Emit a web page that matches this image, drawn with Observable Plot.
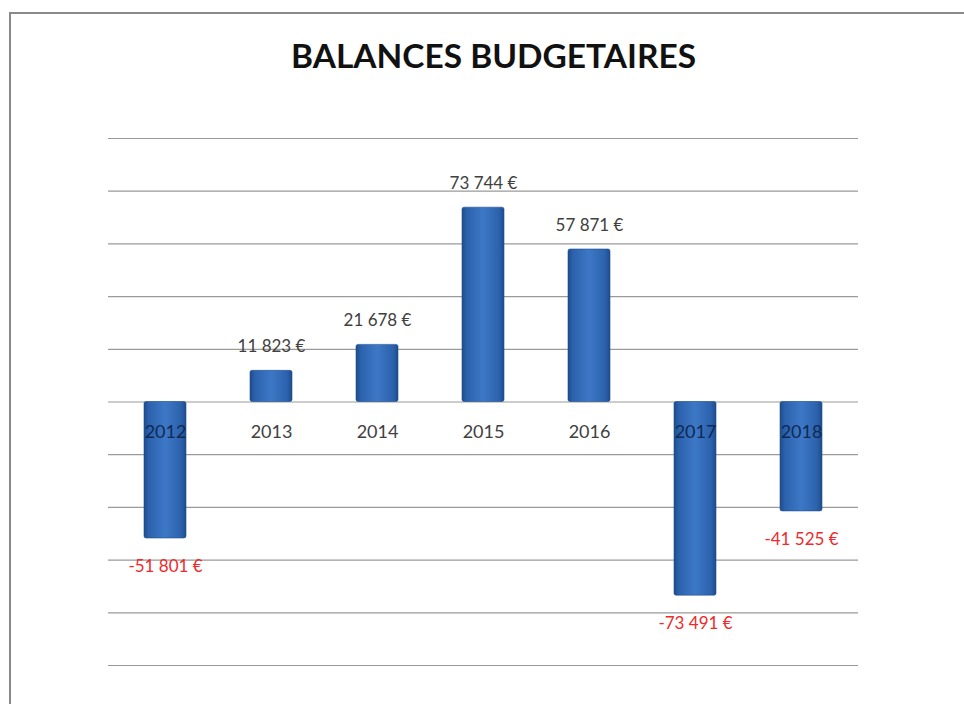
<!DOCTYPE html>
<html>
<head>
<meta charset="utf-8">
<script src="https://cdn.jsdelivr.net/npm/d3@7"></script>
<script src="https://cdn.jsdelivr.net/npm/@observablehq/plot@0.6"></script>
<style>
  html, body { margin: 0; padding: 0; background: #fff; }
  #wrap { position: relative; width: 964px; height: 704px; overflow: hidden; }
  #frame { position: absolute; left: 9px; top: 12px; right: -10px; bottom: -10px; border: 2px solid #8a8a8a; box-sizing: border-box; }
  #chart { position: absolute; left: 0; top: 0; }
</style>
</head>
<body>
<div id="wrap">
  <div id="frame"></div>
  <div id="chart"></div>
</div>
<script>
const title = "BALANCES BUDGETAIRES";
const years = ["2012", "2013", "2014", "2015", "2016", "2017", "2018"];
const balances = [-51801, 11823, 21678, 73744, 57871, -73491, -41525];
const gridTicks = [-100000, -80000, -60000, -40000, -20000, 0, 20000, 40000, 60000, 80000, 100000];

const data = years.map((y, i) => ({year: y, value: balances[i]}));
const fmt = v => {
  const s = Math.abs(v).toString().replace(/\B(?=(\d{3})+(?!\d))/g, " ");
  return (v < 0 ? "-" : "") + s + " €";
};
const pos = data.filter(d => d.value >= 0);
const neg = data.filter(d => d.value < 0);

const gradDefs = () => {
  const ns = "http://www.w3.org/2000/svg";
  const defs = document.createElementNS(ns, "defs");
  defs.innerHTML = `
    <linearGradient id="barGrad" x1="0" x2="1" y1="0" y2="0">
      <stop offset="0" stop-color="#1d4c8c"/>
      <stop offset="0.12" stop-color="#2c62ad"/>
      <stop offset="0.5" stop-color="#3d78c6"/>
      <stop offset="0.88" stop-color="#2c62ad"/>
      <stop offset="1" stop-color="#1d4c8c"/>
    </linearGradient>`;
  return defs;
};

const plot = Plot.plot({
  width: 964,
  height: 704,
  marginLeft: 108,
  marginRight: 106,
  marginTop: 138,
  marginBottom: 39,
  style: {background: "transparent", fontFamily: "Lato, 'Liberation Sans', sans-serif"},
  x: {domain: years, paddingInner: 0.6, paddingOuter: 0.31, axis: null},
  y: {domain: [-100000, 100000], axis: null},
  marks: [
    gradDefs,
    Plot.ruleY(gridTicks, {stroke: "#9a9a9a", strokeWidth: 1.2}),
    Plot.barY(data, {x: "year", y: "value", fill: "url(#barGrad)", stroke: "#1f4f8f", strokeWidth: 0.6, rx: 2}),
    Plot.text(data, {x: "year", y: () => 0, text: "year", dy: 30, fontSize: 18,
      fill: d => d.value < 0 ? "#0f2a55" : "#404040"}),
    Plot.text(pos, {x: "year", y: "value", text: d => fmt(d.value), dy: -24, fontSize: 17, fill: "#404040"}),
    Plot.text(neg, {x: "year", y: "value", text: d => fmt(d.value), dy: 28, fontSize: 17, fill: "#ee2a2a"}),
    Plot.text([title], {frameAnchor: "top", dx: 10, dy: -94, text: d => d, fontSize: 33, fontWeight: "bold", fill: "#111",
      fontFamily: "Lato, 'Liberation Sans', sans-serif"})
  ]
});
document.getElementById("chart").appendChild(plot);
// fit the title to its measured width
d3.select(plot).selectAll("text").filter(function() { return this.textContent === title; })
  .attr("textLength", 405).attr("lengthAdjust", "spacingAndGlyphs");
</script>
</body>
</html>
